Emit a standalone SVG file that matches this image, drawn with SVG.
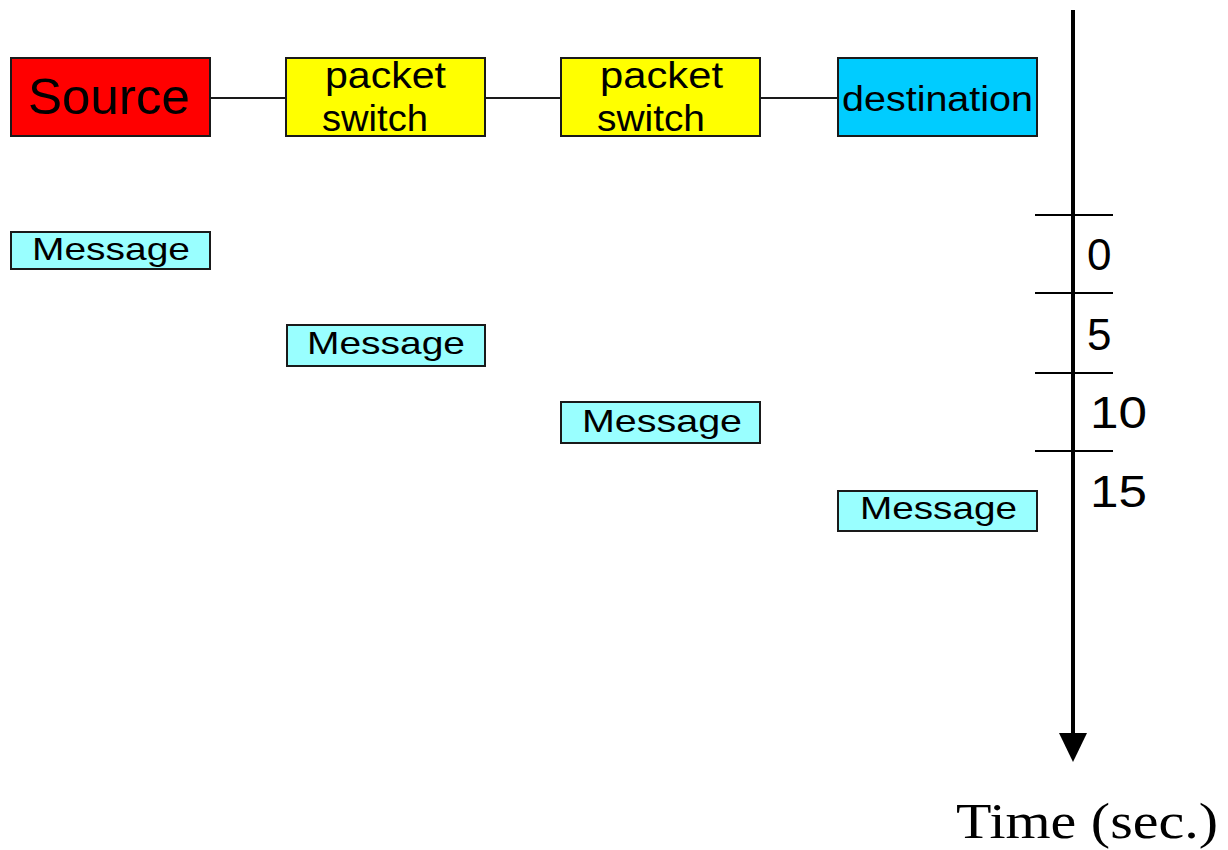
<svg xmlns="http://www.w3.org/2000/svg" width="1228" height="850" viewBox="0 0 1228 850">
  <style>
    .box { stroke: #1a1a1a; stroke-width: 2; }
    .lbl { font-family: "Liberation Sans", Arial, sans-serif; fill: #000; }
    .msg { fill: #99ffff; }
    .link { stroke: #1a1a1a; stroke-width: 2; fill: none; }
    .tick { stroke: #000; stroke-width: 2; }
    .num { font-family: "Liberation Sans", Arial, sans-serif; font-size: 44px; font-weight: 300; fill: #000; }
  </style>
  <defs>
    <marker id="arrow" markerUnits="userSpaceOnUse" markerWidth="30" markerHeight="32" refX="14" refY="30" orient="auto-start-reverse" viewBox="0 0 28 30">
      <path d="M0,0 L28,0 L14,30 Z" fill="#000"/>
    </marker>
  </defs>
  <rect width="1228" height="850" fill="#fff"/>

  <g id="connectors">
    <line class="link" x1="210" y1="98" x2="286" y2="98"/>
    <line class="link" x1="485" y1="98" x2="561" y2="98"/>
    <line class="link" x1="760" y1="98" x2="838" y2="98"/>
  </g>

  <g id="source">
    <rect class="box" x="11" y="58" width="199" height="78" fill="#ff0000"/>
    <text class="lbl" x="28" y="114" font-size="50" textLength="162" lengthAdjust="spacingAndGlyphs">Source</text>
  </g>
  <g id="switch1">
    <rect class="box" x="286" y="58" width="199" height="78" fill="#ffff00"/>
    <text class="lbl" x="325" y="88" font-size="36" textLength="121" lengthAdjust="spacingAndGlyphs">packet</text>
    <text class="lbl" x="322" y="131" font-size="36" textLength="106" lengthAdjust="spacingAndGlyphs">switch</text>
  </g>
  <g id="switch2">
    <rect class="box" x="561" y="58" width="199" height="78" fill="#ffff00"/>
    <text class="lbl" x="600" y="88" font-size="36" textLength="123" lengthAdjust="spacingAndGlyphs">packet</text>
    <text class="lbl" x="597" y="131" font-size="36" textLength="108" lengthAdjust="spacingAndGlyphs">switch</text>
  </g>
  <g id="destination">
    <rect class="box" x="838" y="58" width="199" height="78" fill="#00ccff"/>
    <text class="lbl" x="842" y="111" font-size="35" textLength="191" lengthAdjust="spacingAndGlyphs">destination</text>
  </g>

  <g id="message1">
    <rect class="box msg" x="11" y="232" width="199" height="37"/>
    <text class="lbl" x="32" y="260" font-size="32" textLength="158" lengthAdjust="spacingAndGlyphs">Message</text>
  </g>
  <g id="message2">
    <rect class="box msg" x="287" y="325" width="198" height="41"/>
    <text class="lbl" x="307" y="354" font-size="32" textLength="158" lengthAdjust="spacingAndGlyphs">Message</text>
  </g>
  <g id="message3">
    <rect class="box msg" x="561" y="402" width="199" height="41"/>
    <text class="lbl" x="582" y="432" font-size="32" textLength="160" lengthAdjust="spacingAndGlyphs">Message</text>
  </g>
  <g id="message4">
    <rect class="box msg" x="838" y="491" width="199" height="40"/>
    <text class="lbl" x="860" y="519" font-size="32" textLength="157" lengthAdjust="spacingAndGlyphs">Message</text>
  </g>

  <g id="time-axis">
    <line x1="1073" y1="10" x2="1073" y2="736" stroke="#000" stroke-width="4"/>
    <path d="M1059,733 L1087,733 L1073,762 Z" fill="#000"/>
    <line class="tick" x1="1035" y1="215" x2="1113" y2="215"/>
    <line class="tick" x1="1035" y1="293" x2="1113" y2="293"/>
    <line class="tick" x1="1035" y1="373" x2="1113" y2="373"/>
    <line class="tick" x1="1035" y1="451" x2="1113" y2="451"/>
    <text class="num" x="1087" y="270">0</text>
    <text class="num" x="1087" y="350">5</text>
    <text class="num" x="1090" y="428" textLength="57" lengthAdjust="spacingAndGlyphs">10</text>
    <text class="num" x="1090" y="507" textLength="57" lengthAdjust="spacingAndGlyphs">15</text>
    <text x="956" y="838" font-family="'Liberation Serif', 'Times New Roman', serif" font-size="50" textLength="262" lengthAdjust="spacingAndGlyphs" fill="#000">Time (sec.)</text>
  </g>
</svg>
